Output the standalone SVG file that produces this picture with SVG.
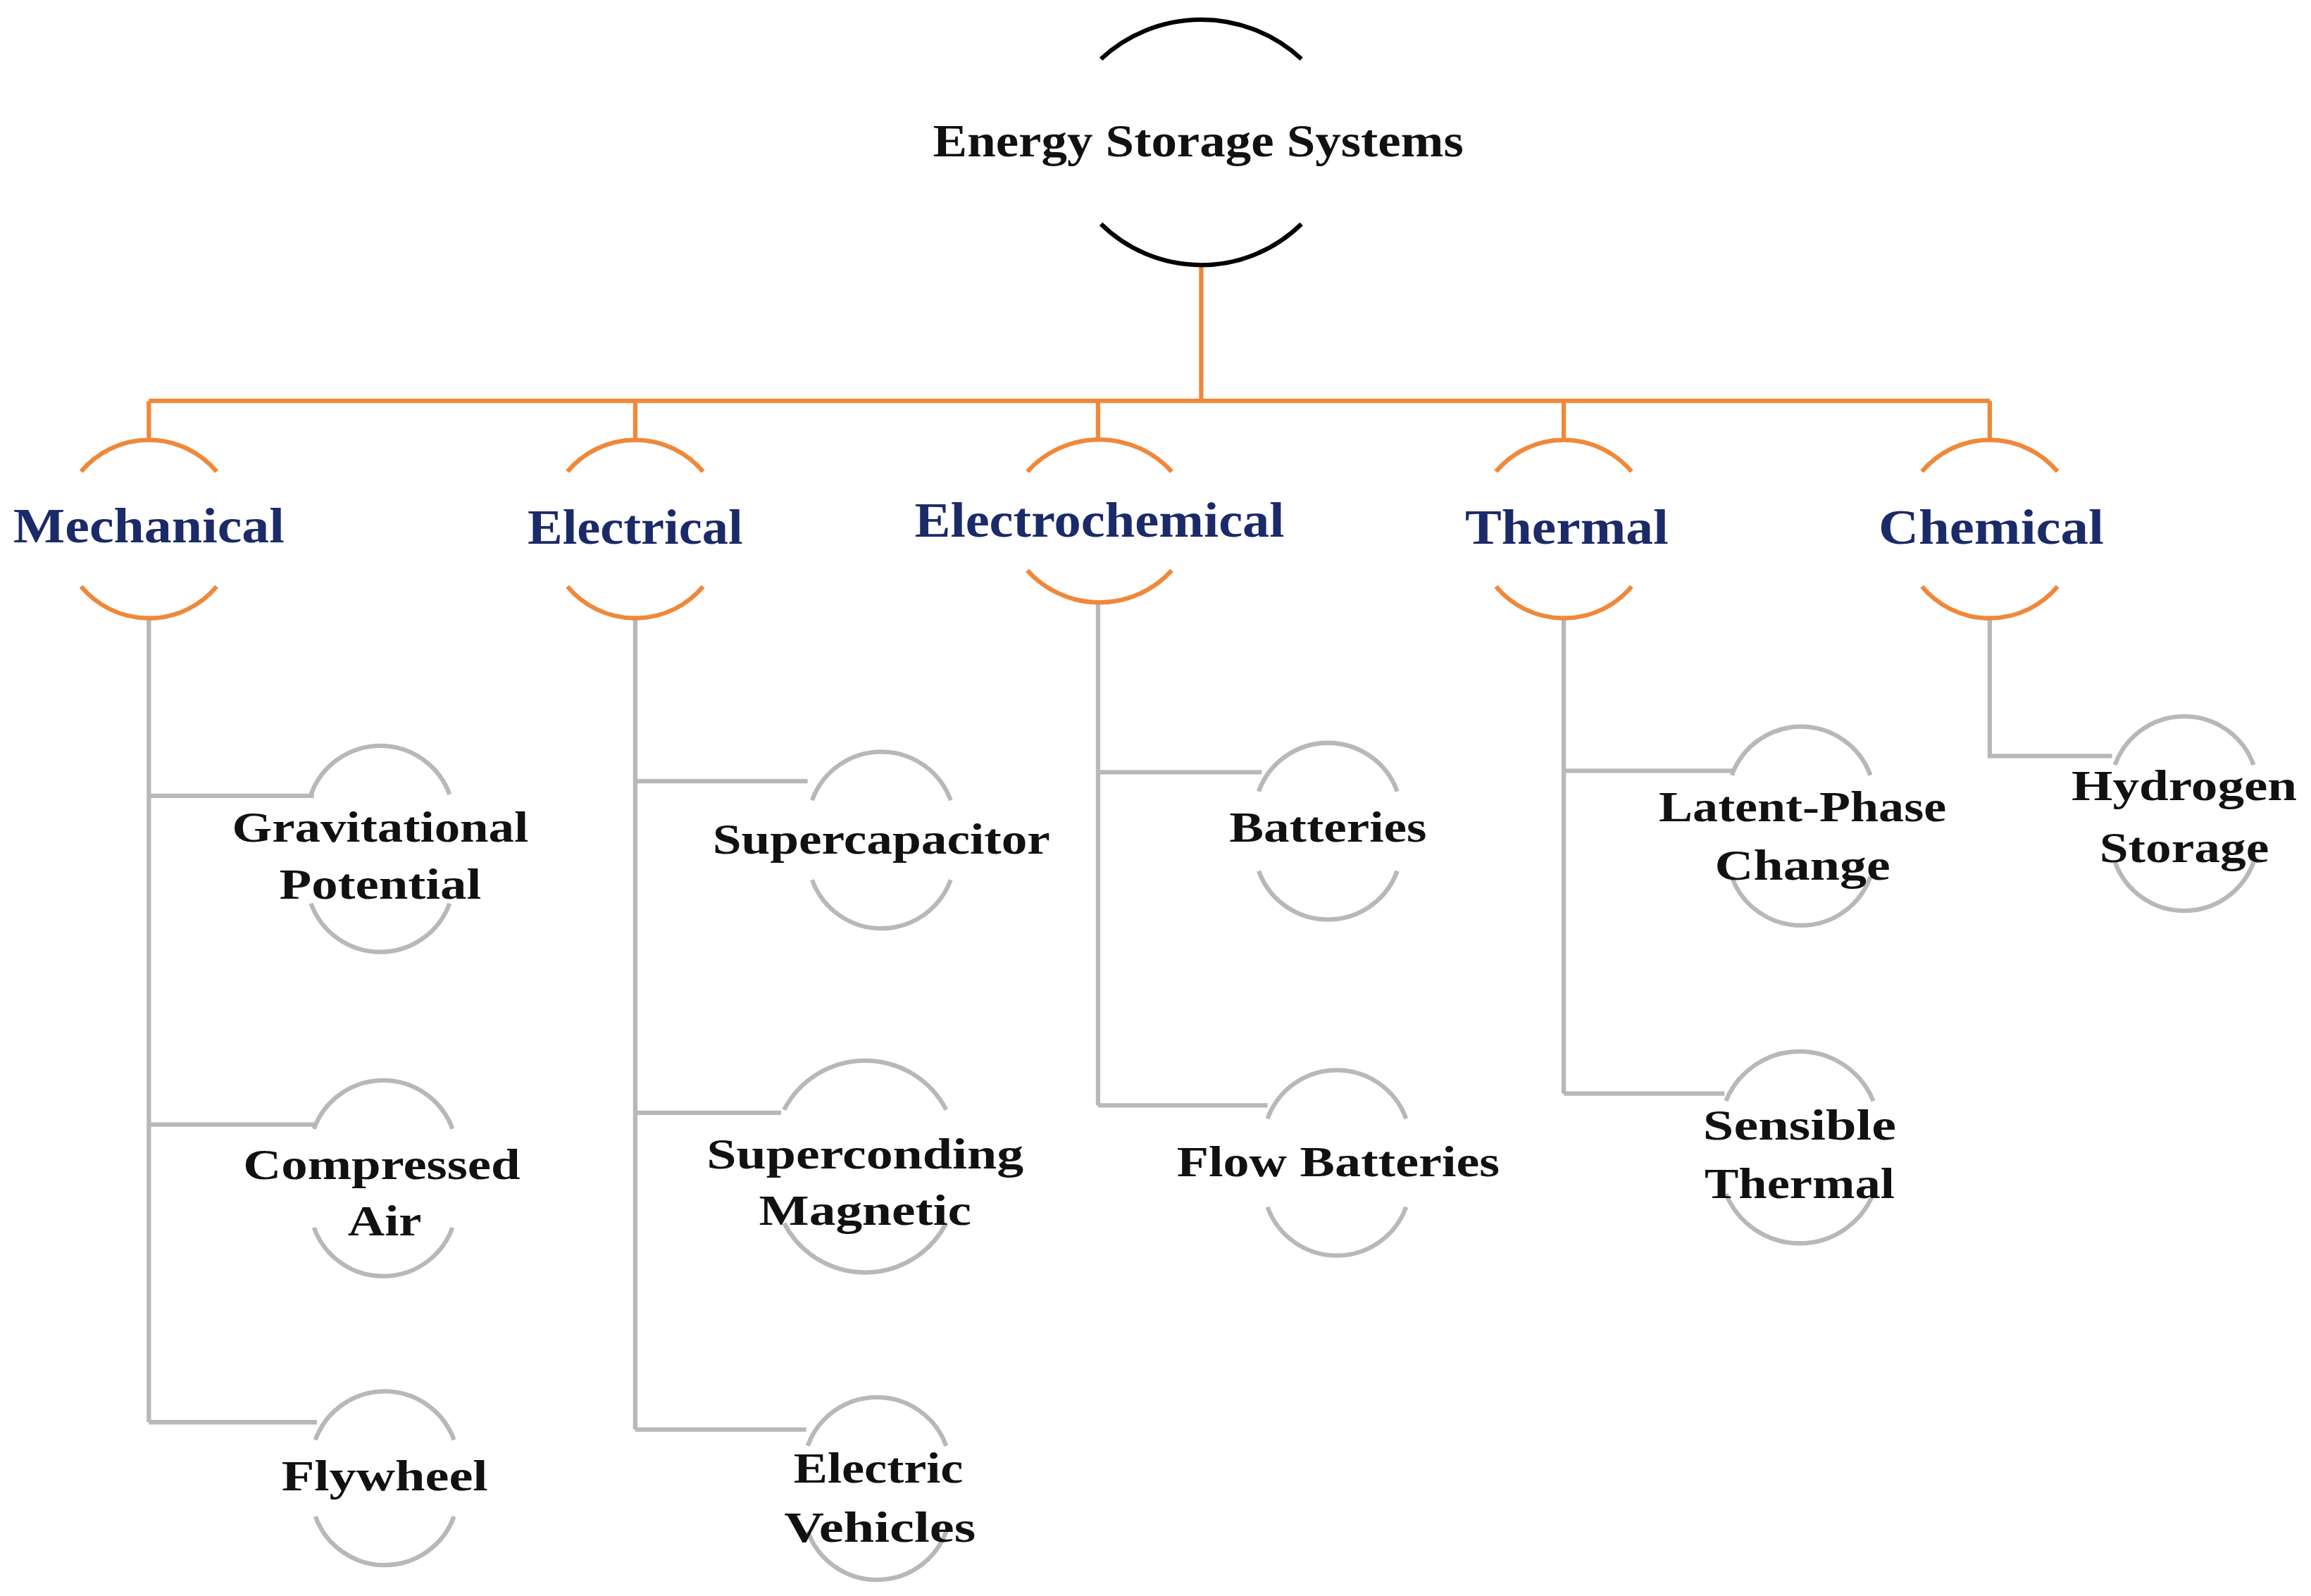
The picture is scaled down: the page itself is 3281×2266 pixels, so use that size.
<svg xmlns="http://www.w3.org/2000/svg" width="3281" height="2266" viewBox="0 0 3281 2266">
<style>
.t{font-family:"Liberation Serif",serif;font-weight:bold;fill:#111;font-size:29px;text-anchor:middle}
.c{font-family:"Liberation Serif",serif;font-weight:bold;fill:#1b2a68;font-size:33px;text-anchor:middle}
.r{font-family:"Liberation Serif",serif;font-weight:bold;fill:#111;font-size:31px;text-anchor:middle}
.g{fill:none;stroke:#b8b8b8;stroke-width:3}
.o{fill:none;stroke:#f0883a;stroke-width:3}
.k{fill:none;stroke:#000;stroke-width:3}
</style>
<rect width="3281" height="2266" fill="#fff"/>
<g transform="scale(2.0925)">
<g id="connectors">
<path class="o" d="M815 180V272M101 272H1350M101 272V298M431 272V298M745 272V298M1061 272V298M1350 272V298"/>
<path class="g" d="M101 418V965M101 540H213M101 763H215M101 965H215"/>
<path class="g" d="M431 418V970M431 530H548M431 755H530M431 970H547"/>
<path class="g" d="M745 408V750M745 524H856M745 750H860"/>
<path class="g" d="M1061 418V742M1061 523H1177M1061 742H1170"/>
<path class="g" d="M1350 418V513H1433"/>
</g>
<g id="root">
<path class="k" d="M747 40A100 100 0 0 1 883 40M747 152A97 97 0 0 0 883 152"/>
<text class="r" x="813" y="106" textLength="360" lengthAdjust="spacingAndGlyphs">Energy Storage Systems</text>
</g>
<g id="mechanical"><path class="o" d="M55 320A60 60 0 0 1 147 320M55 398A60 60 0 0 0 147 398"/><text class="c" x="101" y="368" textLength="184" lengthAdjust="spacingAndGlyphs">Mechanical</text></g>
<g id="electrical"><path class="o" d="M385 320A60 60 0 0 1 477 320M385 398A60 60 0 0 0 477 398"/><text class="c" x="431" y="369" textLength="146" lengthAdjust="spacingAndGlyphs">Electrical</text></g>
<g id="electrochemical"><path class="o" d="M697 320A66 66 0 0 1 795 320M697 387A66 66 0 0 0 795 387"/><text class="c" x="746" y="364" textLength="251" lengthAdjust="spacingAndGlyphs">Electrochemical</text></g>
<g id="thermal"><path class="o" d="M1015 320A60 60 0 0 1 1107 320M1015 398A60 60 0 0 0 1107 398"/><text class="c" x="1063" y="369" textLength="138" lengthAdjust="spacingAndGlyphs">Thermal</text></g>
<g id="chemical"><path class="o" d="M1304 320A60 60 0 0 1 1396 320M1304 398A60 60 0 0 0 1396 398"/><text class="c" x="1351" y="369" textLength="153" lengthAdjust="spacingAndGlyphs">Chemical</text></g>
<g id="gravitational"><path class="g" d="M211 539A50 50 0 0 1 305 539M211 613A50 50 0 0 0 305 613"/><text class="t" x="258" y="571" textLength="201" lengthAdjust="spacingAndGlyphs">Gravitational</text><text class="t" x="258" y="610" textLength="137" lengthAdjust="spacingAndGlyphs">Potential</text></g>
<g id="compressed"><path class="g" d="M213 766A50 50 0 0 1 307 766M213 833A50 50 0 0 0 307 833"/><text class="t" x="259" y="800" textLength="188" lengthAdjust="spacingAndGlyphs">Compressed</text><text class="t" x="261" y="838" textLength="50" lengthAdjust="spacingAndGlyphs">Air</text></g>
<g id="flywheel"><path class="g" d="M214 977A50 50 0 0 1 308 977M214 1029A50 50 0 0 0 308 1029"/><text class="t" x="261" y="1011" textLength="140" lengthAdjust="spacingAndGlyphs">Flywheel</text></g>
<g id="supercapacitor"><path class="g" d="M551 543A50 50 0 0 1 645 543M551 597A50 50 0 0 0 645 597"/><text class="t" x="598" y="579" textLength="229" lengthAdjust="spacingAndGlyphs">Supercapacitor</text></g>
<g id="superconding"><path class="g" d="M532 753A62 62 0 0 1 642 753M532 830A62 62 0 0 0 642 830"/><text class="t" x="587" y="793" textLength="215" lengthAdjust="spacingAndGlyphs">Superconding</text><text class="t" x="587" y="831" textLength="144" lengthAdjust="spacingAndGlyphs">Magnetic</text></g>
<g id="electricvehicles"><path class="g" d="M548 981A50 50 0 0 1 642 981M548 1039A50 50 0 0 0 642 1039"/><text class="t" x="596" y="1006" textLength="115" lengthAdjust="spacingAndGlyphs">Electric</text><text class="t" x="597" y="1046" textLength="130" lengthAdjust="spacingAndGlyphs">Vehicles</text></g>
<g id="batteries"><path class="g" d="M854 537A50 50 0 0 1 948 537M854 591A50 50 0 0 0 948 591"/><text class="t" x="901" y="571" textLength="134" lengthAdjust="spacingAndGlyphs">Batteries</text></g>
<g id="flowbatteries"><path class="g" d="M860 759A50 50 0 0 1 954 759M860 819A50 50 0 0 0 954 819"/><text class="t" x="908" y="798" textLength="219" lengthAdjust="spacingAndGlyphs">Flow Batteries</text></g>
<g id="latentphase"><path class="g" d="M1175 526A50 50 0 0 1 1269 526M1175 595A50 50 0 0 0 1269 595"/><text class="t" x="1223" y="557" textLength="195" lengthAdjust="spacingAndGlyphs">Latent-Phase</text><text class="t" x="1223" y="597" textLength="119" lengthAdjust="spacingAndGlyphs">Change</text></g>
<g id="sensiblethermal"><path class="g" d="M1171 747A54 54 0 0 1 1271 747M1171 810A54 54 0 0 0 1271 810"/><text class="t" x="1221" y="773" textLength="131" lengthAdjust="spacingAndGlyphs">Sensible</text><text class="t" x="1221" y="813" textLength="129" lengthAdjust="spacingAndGlyphs">Thermal</text></g>
<g id="hydrogen"><path class="g" d="M1435 519A50 50 0 0 1 1529 519M1435 585A50 50 0 0 0 1529 585"/><text class="t" x="1482" y="543" textLength="153" lengthAdjust="spacingAndGlyphs">Hydrogen</text><text class="t" x="1482" y="585" textLength="115" lengthAdjust="spacingAndGlyphs">Storage</text></g>
</g>
</svg>
